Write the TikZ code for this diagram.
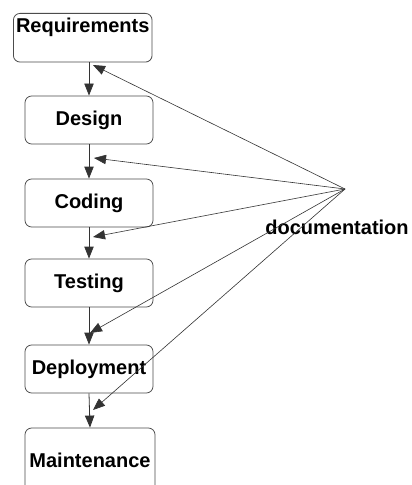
\documentclass[tikz,border=0pt]{standalone}
\usepackage{fontspec}
\setmainfont{Liberation Sans}
\usetikzlibrary{arrows.meta}
\begin{document}
\begin{tikzpicture}[x=0.75pt,y=-0.75pt,
  stage/.style={draw=black!70, line width=0.6pt, rounded corners=5pt, font=\bfseries\fontsize{15}{18}\selectfont,
    minimum width=96pt, minimum height=36pt, inner sep=0pt},
  arr/.style={draw=black!80, line width=0.6pt, -{Triangle[length=9pt,width=7pt]}},
  docarr/.style={draw=black!80, line width=0.45pt, -{Triangle[length=9pt,width=7pt]}}]
\useasboundingbox (0,0) rectangle (411,485);
\clip (0,0) rectangle (411,485);
\fill[white] (0,0) rectangle (411,485);
\node[stage, anchor=north west, minimum width=104pt, text height=14pt, text depth=22.5pt, text width=104pt, align=center] (req) at (13,13) {Requirements};
\node[stage] (des) at (89,120) {Design};
\node[stage] (cod) at (89,203) {Coding};
\node[stage] (tes) at (89,283) {Testing};
\node[stage] (dep) at (89,369) {Deployment};
\node[stage, minimum width=97.5pt, minimum height=48pt] (mai) at (90,460) {Maintenance};
\draw[arr] (des.north |- req.south) -- (des.north);
\draw[arr] (des.south) -- (cod.north);
\draw[arr] (cod.south) -- (tes.north);
\draw[arr] (tes.south) -- (dep.north);
\draw[arr] (dep.south) -- (mai.north);
\coordinate (doc) at (345,189);
\node[font=\bfseries\fontsize{15}{18}\selectfont, inner sep=0pt] (doclabel) at (337,227) {documentation};
\coordinate (t1) at (93,65);
\coordinate (t2) at (94,158);
\coordinate (t3) at (93,237);
\coordinate (t4) at (90,333);
\coordinate (t5) at (93,410);
\foreach \t in {t1,t2,t3,t4,t5} \draw[docarr] (doc) -- (\t);
\end{tikzpicture}
\end{document}
